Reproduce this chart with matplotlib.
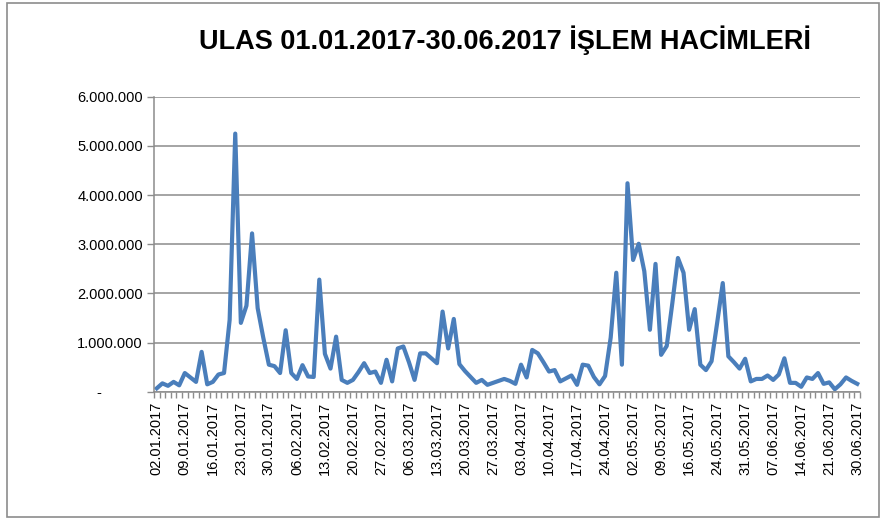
import numpy as np
import matplotlib
matplotlib.use("Agg")
import matplotlib.pyplot as plt
from matplotlib.patches import Rectangle
from matplotlib.ticker import FuncFormatter

# daily trading volume (millions), trading days 02.01.2017 - 30.06.2017
volume_m = [
    0.07, 0.17, 0.12, 0.20, 0.13, 0.38, 0.29, 0.20, 0.81, 0.15,
    0.20, 0.35, 0.38, 1.46, 5.25, 1.40, 1.75, 3.22, 1.70, 1.10,
    0.55, 0.52, 0.38, 1.25, 0.38, 0.26, 0.54, 0.31, 0.30, 2.28,
    0.77, 0.47, 1.12, 0.24, 0.18, 0.24, 0.40, 0.58, 0.38, 0.41,
    0.18, 0.65, 0.21, 0.88, 0.92, 0.60, 0.24, 0.78, 0.78, 0.68,
    0.58, 1.63, 0.88, 1.48, 0.56, 0.42, 0.30, 0.18, 0.24, 0.14,
    0.18, 0.22, 0.26, 0.22, 0.16, 0.55, 0.29, 0.85, 0.78, 0.60,
    0.41, 0.44, 0.21, 0.27, 0.33, 0.14, 0.55, 0.53, 0.30, 0.15,
    0.32, 1.10, 2.42, 0.55, 4.24, 2.68, 3.01, 2.45, 1.26, 2.60,
    0.75, 0.93, 1.80, 2.72, 2.42, 1.26, 1.68, 0.55, 0.44, 0.62,
    1.40, 2.21, 0.72, 0.60, 0.47, 0.67, 0.21, 0.26, 0.26, 0.33,
    0.24, 0.35, 0.68, 0.18, 0.18, 0.10, 0.29, 0.26, 0.38, 0.16,
    0.19, 0.05, 0.15, 0.29, 0.22, 0.16,
]

# every 5th trading day is labelled
tick_labels = [
    "02.01.2017", "09.01.2017", "16.01.2017", "23.01.2017", "30.01.2017",
    "06.02.2017", "13.02.2017", "20.02.2017", "27.02.2017", "06.03.2017",
    "13.03.2017", "20.03.2017", "27.03.2017", "03.04.2017", "10.04.2017",
    "17.04.2017", "24.04.2017", "02.05.2017", "09.05.2017", "16.05.2017",
    "24.05.2017", "31.05.2017", "07.06.2017", "14.06.2017", "21.06.2017",
    "30.06.2017",
]
label_step = 5

title = "ULAS 01.01.2017-30.06.2017 İŞLEM HACİMLERİ"

volume = np.array(volume_m) * 1_000_000
x = np.arange(len(volume))

plt.rcParams["font.family"] = ["Liberation Sans", "DejaVu Sans"]

fig = plt.figure(figsize=(8.83, 5.2), dpi=100)
ax = fig.add_axes([0.1744, 0.2467, 0.7996, 0.5673])

ax.plot(x, volume, color="#4A7EBB", linewidth=3.0, solid_joinstyle="round")

ax.set_xlim(-0.5, len(volume) - 0.5)
ax.set_ylim(0, 6_000_000)
ax.set_yticks(np.arange(0, 6_000_001, 1_000_000))


def tr_format(v, pos):
    # accounting style: zero shown as a dash, padded like the numbers
    if v == 0:
        return "-" + "\u2007" * 5
    return f"{int(v):,}".replace(",", ".")


ax.yaxis.set_major_formatter(FuncFormatter(tr_format))
ax.grid(axis="y", color="#8C8C8C", linewidth=1.1)
ax.set_axisbelow(True)

ax.set_xticks(x[::label_step])
ax.set_xticklabels(tick_labels, rotation=90)
ax.set_xticks(np.arange(-0.5, len(volume), 1), minor=True)
ax.tick_params(axis="x", which="major", length=0, pad=7, labelsize=10.5)
ax.tick_params(axis="x", which="minor", length=4, color="#8C8C8C", width=1)
ax.tick_params(axis="y", length=5, color="#8C8C8C", width=1, labelsize=10.5, pad=3)

for side in ["top", "right"]:
    ax.spines[side].set_visible(False)
for side in ["left", "bottom"]:
    ax.spines[side].set_color("#8C8C8C")
    ax.spines[side].set_linewidth(1.1)

fig.text(0.572, 0.922, title, ha="center", va="center", fontsize=19.5,
         fontweight="bold")

fig.patches.append(Rectangle((0.008, 0.006), 0.988, 0.988, transform=fig.transFigure,
                             fill=False, edgecolor="#8C8C8C", linewidth=1.2))

fig.savefig("out.png", dpi=100)
